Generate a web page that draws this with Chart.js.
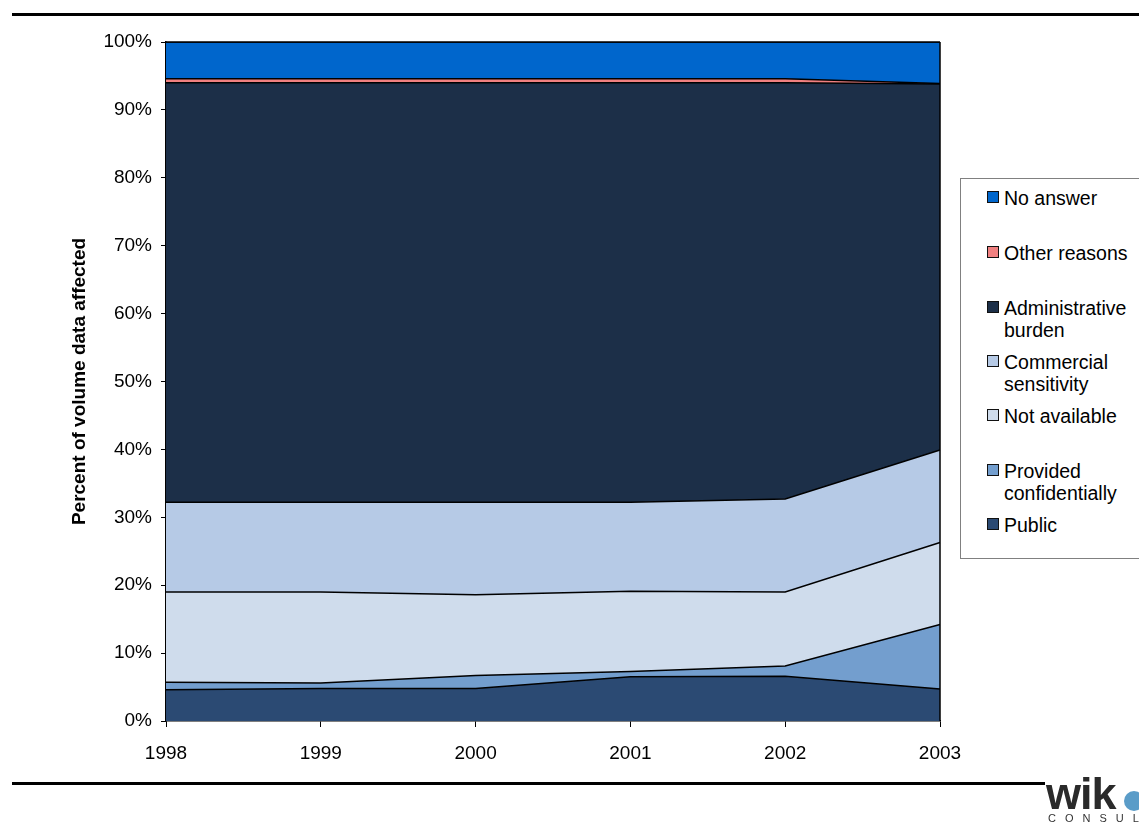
<!DOCTYPE html>
<html>
<head>
<meta charset="utf-8">
<script src="https://cdn.jsdelivr.net/npm/chart.js@4.4.0/dist/chart.umd.min.js"></script>
<style>
  html, body { margin:0; padding:0; background:#fff; }
  body { width:1139px; height:824px; overflow:hidden; position:relative; font-family:"Liberation Sans", Arial, sans-serif; }
  #wrap { position:absolute; left:0; top:0; width:1139px; height:824px; }
  .rule { position:absolute; height:3px; background:#000; }
  #legend { position:absolute; left:960px; top:178px; width:200px; height:381px; border:1px solid #808080; box-sizing:border-box; background:#fff; }
  .li { position:absolute; left:0; font-size:19.5px; line-height:22px; color:#000; }
  .sq { position:absolute; left:26px; width:12px; height:12px; border:1.5px solid #111; box-sizing:border-box; }
  .lt { position:absolute; left:43px; white-space:nowrap; }
  #logo { position:absolute; left:1046px; top:770px; }
</style>
</head>
<body>
<div class="rule" style="left:12px; top:13px; width:1127px;"></div>
<div class="rule" style="left:12px; top:782px; width:1033px;"></div>
<div id="wrap"><canvas id="c" width="1139" height="824"></canvas></div>
<div id="legend"></div>
<div id="logo">
  <div style="position:absolute; left:0; top:1px; font:bold 45px 'Liberation Sans', Arial, sans-serif; color:#2a2a2a; letter-spacing:-1px; line-height:46px;">wik</div>
  <div style="position:absolute; left:78px; top:21px; width:20px; height:20px; border-radius:50%; background:#5a9cc8;"></div>
  <div style="position:absolute; left:2px; top:42px; font:11px 'Liberation Sans', Arial, sans-serif; letter-spacing:9px; color:#333;">CONSULT</div>
</div>
<script>
const years = ["1998","1999","2000","2001","2002","2003"];
const yTicks = [0,10,20,30,40,50,60,70,80,90,100];

// values in percent, stacked bottom to top
const publicVals       = [4.6, 4.8, 4.8, 6.5, 6.6, 4.7];
const confidentialVals = [1.1, 0.8, 1.9, 0.8, 1.5, 9.5];
const notAvailVals     = [13.3, 13.4, 11.9, 11.8, 10.9, 12.1];
const commercialVals   = [13.2, 13.2, 13.6, 13.1, 13.7, 13.6];
const adminVals        = [61.8, 61.8, 61.8, 61.8, 61.3, 53.9];
const otherVals        = [0.6, 0.6, 0.6, 0.6, 0.6, 0.1];
const noAnswerVals     = [5.4, 5.4, 5.4, 5.4, 5.4, 6.1];

const seriesNames = ["Public","Provided confidentially","Not available","Commercial sensitivity","Administrative burden","Other reasons","No answer"];
const seriesColors = ["#2B4A73","#739ECE","#CFDCEC","#B6CAE6","#1C2F48","#F08080","#0066CC"];
const seriesData = [publicVals, confidentialVals, notAvailVals, commercialVals, adminVals, otherVals, noAnswerVals];

// legend (top to bottom as in the reference)
const legendOrder = [6,5,4,3,2,1,0];
const legendLabels = ["No answer","Other reasons","Administrative<br>burden","Commercial<br>sensitivity","Not available","Provided<br>confidentially","Public"];
const legendTops = [8, 63, 118, 172, 226, 281, 335];
const lg = document.getElementById('legend');
legendOrder.forEach((si, i) => {
  const d = document.createElement('div');
  d.className = 'li';
  d.style.top = legendTops[i] + 'px';
  d.innerHTML = '<div class="sq" style="top:4px;background:' + seriesColors[si] + '"></div><div class="lt">' + legendLabels[i] + '</div>';
  lg.appendChild(d);
});

const datasets = seriesData.map((vals, i) => ({
  label: seriesNames[i],
  data: vals,
  backgroundColor: seriesColors[i],
  borderColor: '#000',
  borderWidth: 1.5,
  pointRadius: 0,
  tension: 0,
  fill: i === 0 ? 'origin' : '-1'
}));

const frame = {
  id: 'frame',
  afterDatasetsDraw(chart) {
    const {ctx, chartArea:a} = chart;
    ctx.save();
    ctx.strokeStyle = '#000';
    ctx.lineWidth = 1.5;
    ctx.beginPath();
    ctx.moveTo(a.right, a.top); ctx.lineTo(a.right, a.bottom);
    ctx.moveTo(a.left, a.top); ctx.lineTo(a.right, a.top);
    ctx.stroke();
    ctx.restore();
  }
};

new Chart(document.getElementById('c'), {
  type: 'line',
  data: { labels: years, datasets },
  options: {
    responsive: false,
    animation: false,
    layout: { padding: { left: 64, top: 42, right: 199, bottom: 0 } },
    plugins: { legend: { display: false }, tooltip: { enabled: false } },
    elements: { line: { borderJoinStyle: 'miter' } },
    scales: {
      x: {
        type: 'category',
        offset: false,
        grid: { display: true, drawOnChartArea: false, tickLength: 6, color: '#000', lineWidth: 1 },
        border: { display: true, color: '#000', width: 1.5 },
        ticks: { color: '#000', font: { family: "'Liberation Sans', Arial, sans-serif", size: 19 }, padding: 15, maxRotation: 0 },
        afterFit(s) { s.height = 103; }
      },
      y: {
        stacked: true,
        min: 0, max: 100,
        afterBuildTicks(s) { s.ticks = yTicks.map(v => ({ value: v })); },
        grid: { display: true, drawOnChartArea: false, tickLength: 5, color: '#000', lineWidth: 1 },
        border: { display: true, color: '#000', width: 1.5 },
        ticks: { color: '#000', font: { family: "'Liberation Sans', Arial, sans-serif", size: 19 }, padding: 9, callback: v => v + '%' },
        title: { display: true, text: 'Percent of volume data affected', color: '#000', font: { family: "'Liberation Sans', Arial, sans-serif", size: 19, weight: 'bold' }, padding: { top: 4, bottom: 4 } },
        afterFit(s) { s.width = 102; }
      }
    }
  },
  plugins: [frame]
});
</script>
</body>
</html>
